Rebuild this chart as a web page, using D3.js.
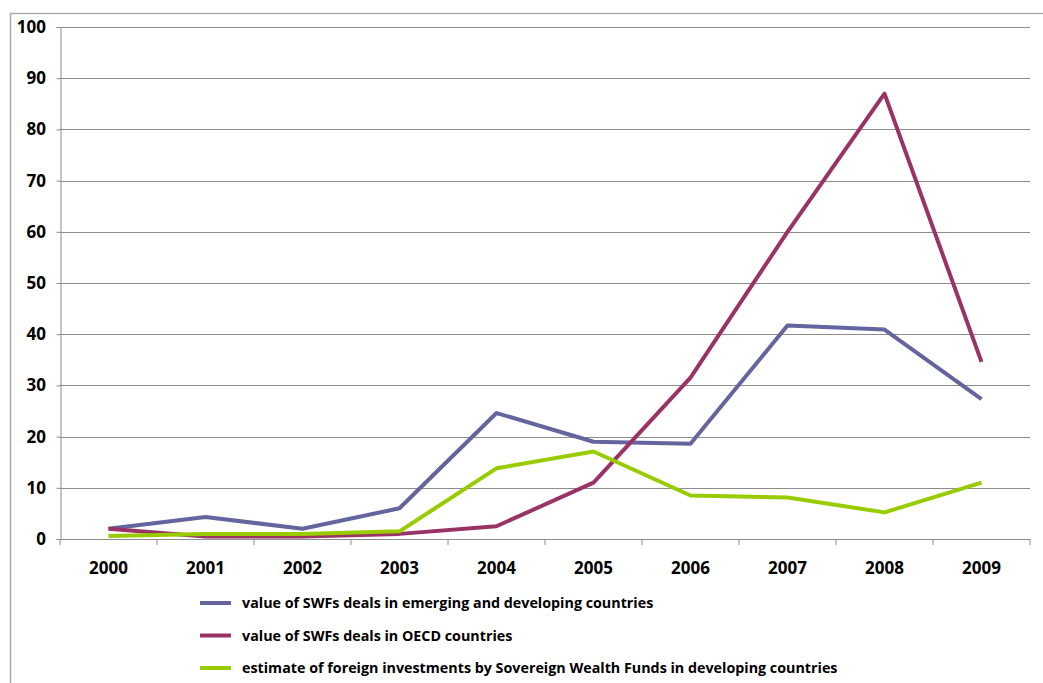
<!DOCTYPE html>
<html>
<head>
<meta charset="utf-8">
<script src="https://cdn.jsdelivr.net/npm/d3@7"></script>
<style>
  body { margin: 0; background: #fff; overflow: hidden; }
  svg { display: block; }
  svg text { font-family: "Open Sans", "Liberation Sans", sans-serif; font-weight: bold; fill: #000; }
  .label { font-size: 17px; }
  .legend-text { font-size: 14.3px; }
</style>
</head>
<body>
<svg width="1043" height="683"></svg>
<script>
// years along the bottom
const years = ['2000', '2001', '2002', '2003', '2004', '2005', '2006', '2007', '2008', '2009']
// series values
const emerging = [2, 4.3, 2, 6, 24.6, 19, 18.6, 41.7, 40.9, 27.3]
const oecd = [2, 0.5, 0.5, 1, 2.5, 11, 31.5, 60, 87, 34.6]
const foreign = [0.6, 1, 1, 1.5, 13.8, 17.1, 8.5, 8.1, 5.2, 11]
const seriesNames = [
  'value of SWFs deals in emerging and developing countries',
  'value of SWFs deals in OECD countries',
  'estimate of foreign investments by Sovereign Wealth Funds in developing countries'
]
const yTicks = [0, 10, 20, 30, 40, 50, 60, 70, 80, 90, 100]

const colors = ['#64649e', '#993366', '#99cc00']
const allSeries = [emerging, oecd, foreign]

const svg = d3.select('svg')
const plotLeft = 60, plotRight = 1030, plotTop = 27, plotBottom = 539

// outer frame
svg.append('path')
  .attr('d', 'M10.5,683 V13.5 H1043')
  .attr('fill', 'none')
  .attr('stroke', '#aaa')
  .attr('stroke-width', 1.5)

// scales in page coordinates
const xScale = d3.scaleBand()
  .domain(years)
  .range([plotLeft, plotRight])

const yScale = d3.scaleLinear()
  .domain([0, 100])
  .range([plotBottom, plotTop])

// horizontal gridlines
svg.append('g')
  .selectAll('line').data(yTicks.slice(1))
  .enter().append('line')
    .attr('x1', plotLeft)
    .attr('x2', plotRight)
    .attr('y1', d => Math.round(yScale(d)) + 0.5)
    .attr('y2', d => Math.round(yScale(d)) + 0.5)
    .attr('stroke', '#8c8c8c')

// y axis line and ticks, labels drawn separately
const yAxisG = svg.append('g')
  .attr('transform', `translate(${plotLeft + 0.5},0)`)
  .call(d3.axisLeft(yScale).tickValues(yTicks).tickSize(4).tickFormat(''))
yAxisG.selectAll('.domain, .tick line').attr('stroke', '#8c8c8c')

svg.append('g').selectAll('text').data(yTicks)
  .enter().append('text')
    .attr('class', 'label')
    .attr('x', plotLeft - 14)
    .attr('y', d => yScale(d) + 6)
    .attr('text-anchor', 'end')
    .text(d => d)

// x axis: ticks sit on band edges
svg.append('line')
  .attr('x1', plotLeft).attr('x2', plotRight)
  .attr('y1', plotBottom + 0.5).attr('y2', plotBottom + 0.5)
  .attr('stroke', '#8c8c8c')
svg.append('g').selectAll('line').data(years.concat(['end']))
  .enter().append('line')
    .attr('x1', (d, i) => plotLeft + i * xScale.step())
    .attr('x2', (d, i) => plotLeft + i * xScale.step())
    .attr('y1', plotBottom).attr('y2', plotBottom + 6)
    .attr('stroke', '#8c8c8c')
svg.append('g').selectAll('text').data(years)
  .enter().append('text')
    .attr('class', 'label')
    .attr('x', d => xScale(d) + xScale.bandwidth() / 2)
    .attr('y', plotBottom + 35)
    .attr('text-anchor', 'middle')
    .text(d => d)

// lines
const line = d3.line()
  .x((d, i) => xScale(years[i]) + xScale.bandwidth() / 2)
  .y(d => yScale(d))

svg.selectAll('.series').data(allSeries)
  .enter().append('path')
    .attr('class', 'series')
    .attr('d', line)
    .attr('fill', 'none')
    .attr('stroke', (d, i) => colors[i])
    .attr('stroke-width', 4)
    .attr('stroke-linejoin', 'round')

// legend below the chart
const legendX = 200, legendY = 603, legendStep = 32.5
svg.append('g').selectAll('line').data(seriesNames)
  .enter().append('line')
    .attr('x1', legendX).attr('x2', legendX + 31)
    .attr('y1', (d, i) => legendY + i * legendStep)
    .attr('y2', (d, i) => legendY + i * legendStep)
    .attr('stroke', (d, i) => colors[i])
    .attr('stroke-width', 4)
svg.append('g').selectAll('text').data(seriesNames)
  .enter().append('text')
    .attr('class', 'legend-text')
    .attr('x', legendX + 42)
    .attr('y', (d, i) => legendY + i * legendStep + 5)
    .text(d => d)
</script>
</body>
</html>
